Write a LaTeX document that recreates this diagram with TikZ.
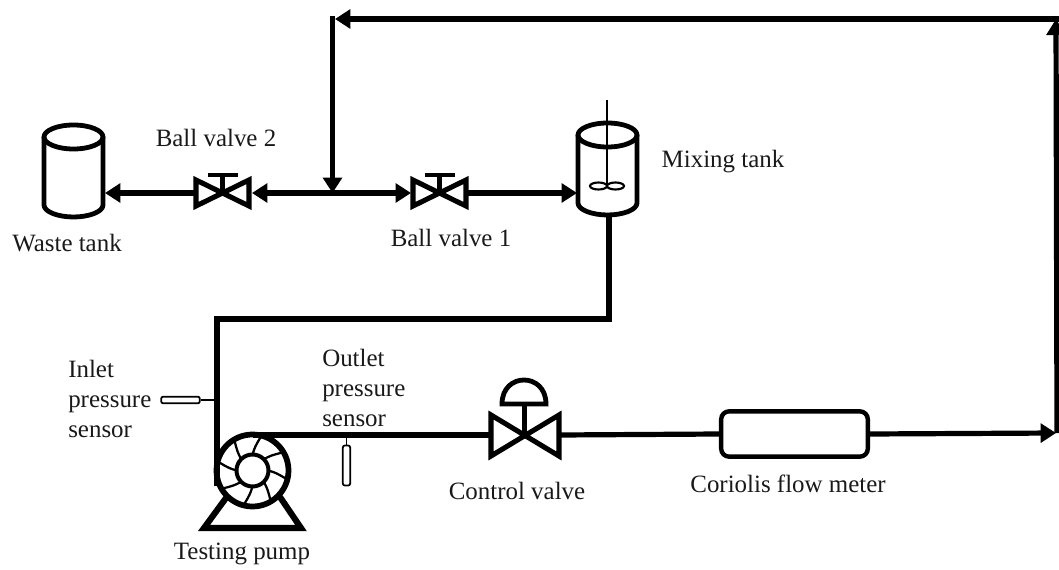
\documentclass[tikz,border=0pt]{standalone}
\usepackage{fontspec}
\setmainfont{Liberation Serif}
\usetikzlibrary{arrows.meta}
\tikzset{
  pipe/.style={line width=3.9pt,line cap=butt,line join=miter},
  flow/.style={pipe,-{Triangle[length=11.5pt,width=14pt]}},
  flowboth/.style={pipe,{Triangle[length=11.5pt,width=14pt]}-{Triangle[length=11.5pt,width=14pt]}},
  equip/.style={line width=3.6pt,line join=round},
  thinline/.style={line width=1pt},
  lbl/.style={font=\fontsize{18.7pt}{22pt}\selectfont,inner sep=0pt,text=black!90},
  lbll/.style={lbl,align=left,anchor=north west,font=\fontsize{18.7pt}{22.6pt}\selectfont},
  ballvalve/.pic={
    \draw[equip,line width=3.8pt,miter limit=10,line join=miter] (-26.5,-13) -- (26.5,13) -- (26.5,-13) -- (-26.5,13) -- cycle;
    \draw[equip,line width=3.2pt] (0,0) -- (0,-18);
    \draw[equip,line width=3.4pt,line cap=butt] (-15,-18) -- (15,-18);
  },
  cylinder tank/.pic={
    \draw[equip] (-29.5,0) -- (-29.5,68) .. controls (-29.5,75) and (-15,80) .. (0,80) .. controls (15,80) and (29.5,75) .. (29.5,68) -- (29.5,0);
    \draw[equip] (0,0) ellipse[x radius=29.5,y radius=12];
  }
}
\begin{document}
\begin{tikzpicture}[x=.75pt,y=-.75pt]
\useasboundingbox (0,0) rectangle (1059,570);

% equipment anchors
\coordinate (waste) at (73.5,137);
\coordinate (mix) at (607.5,135);
\coordinate (bv2) at (222.5,193);
\coordinate (bv1) at (439.5,193);
\coordinate (junction) at (332.5,193);
\coordinate (wasteport) at (105,193);
\coordinate (mixport) at (577,193);
\coordinate (mixbottom) at (609,213);
\coordinate (bendA) at (609,319);
\coordinate (bendB) at (217,319);
\coordinate (pumpin) at (217,486);
\coordinate (pumpc) at (252.5,470.5);
\coordinate (pumpout) at (252.5,435);
\coordinate (cv) at (524.5,435);
\coordinate (cvL) at (490,435);
\coordinate (cvR) at (560,435);
\coordinate (rightbot) at (1056,433);
\coordinate (topleft) at (335,19);
\coordinate (topright) at (1059,19);
\coordinate (corner) at (332.5,16);
\coordinate (rtip) at (1056,19);
\coordinate (rstart) at (1057,433);

% tanks
\path (waste) pic {cylinder tank};
\path (mix) pic {cylinder tank};
\draw[line width=1.1pt] (607,100) -- (607,186);
\draw[line width=1.6pt] (598.5,186) ellipse[x radius=8.5,y radius=3.5];
\draw[line width=1.6pt] (615.5,186) ellipse[x radius=8.5,y radius=3.5];

% valves
\path (bv2) pic {ballvalve};
\path (bv1) pic {ballvalve};

% control valve
\draw[equip,line width=3.8pt,miter limit=10,line join=miter] (491,415) -- (559,456) -- (559,415) -- (491,456) -- cycle;
\draw[equip] (cv) -- (524.5,404);
\draw[equip,line join=miter] (502,404) .. controls (502,372) and (546,372) .. (546,404) -- cycle;

% flow meter
\node[draw,line width=3.3pt,rounded corners=6pt,minimum width=110pt,minimum height=34pt,inner sep=0pt] (meter) at (794.5,434) {};

% pump
\draw[line width=4.3pt] (pumpc) circle[radius=36];
\draw[line width=3pt] (pumpc) circle[radius=16];
\foreach \a in {0,45,...,315}{
  \draw[line width=1.7pt] ([shift={(\a:16)}]pumpc) .. controls ([shift={(\a+6:24)}]pumpc) .. ([shift={(\a+14:35)}]pumpc);
}
\draw[equip,line width=4.6pt,line join=miter] (226,498) -- (204,528) -- (301,528) -- (280,497);

% pipes
\draw[flow] (195,193) -- (wasteport);
\draw[flowboth] (252,193) -- (411,193);
\draw[flow] (468,193) -- (mixport);
\draw[flow] (topright) -- (topleft);
\draw[flow] (corner) -- (junction);
\draw[pipe,-{Triangle[length=12pt,width=14pt]}] (rstart) -- (rtip);
\draw[pipe] (mixbottom) -- (bendA) -- (bendB) -- (pumpin);
\draw[pipe] (pumpout) -- (cvL);
\draw[pipe] (cvR) -- (meter.west);
\draw[flow] (meter.east) -- (rightbot);

% sensors
\node[draw,line width=1.3pt,rounded corners=1.5pt,minimum width=29pt,minimum height=5pt,inner sep=0pt] (inlet) at (180.5,400) {};
\draw[thinline] (inlet.east) -- (215,400);
\node[draw,line width=1.3pt,rounded corners=1.5pt,minimum width=5.5pt,minimum height=30pt,inner sep=0pt] (outlet) at (346.5,465.5) {};
\draw[thinline] (outlet.north) -- (346.5,437);

% labels
\node[lbl] (l1) at (216,138) {Ball valve 2};
\node[lbl] (l2) at (67,243) {Waste tank};
\node[lbl] (l3) at (451,238) {Ball valve 1};
\node[lbl] (l4) at (723,162) {Mixing tank};
\node[lbll] (l5) at (68,360) {Inlet\\pressure\\sensor};
\node[lbll] (l6) at (322,349) {Outlet\\pressure\\sensor};
\node[lbl] (l7) at (517,491) {Control valve};
\node[lbl] (l8) at (788,484) {Coriolis flow meter};
\node[lbl] (l9) at (242,554) {Testing pump};
\end{tikzpicture}
\end{document}
